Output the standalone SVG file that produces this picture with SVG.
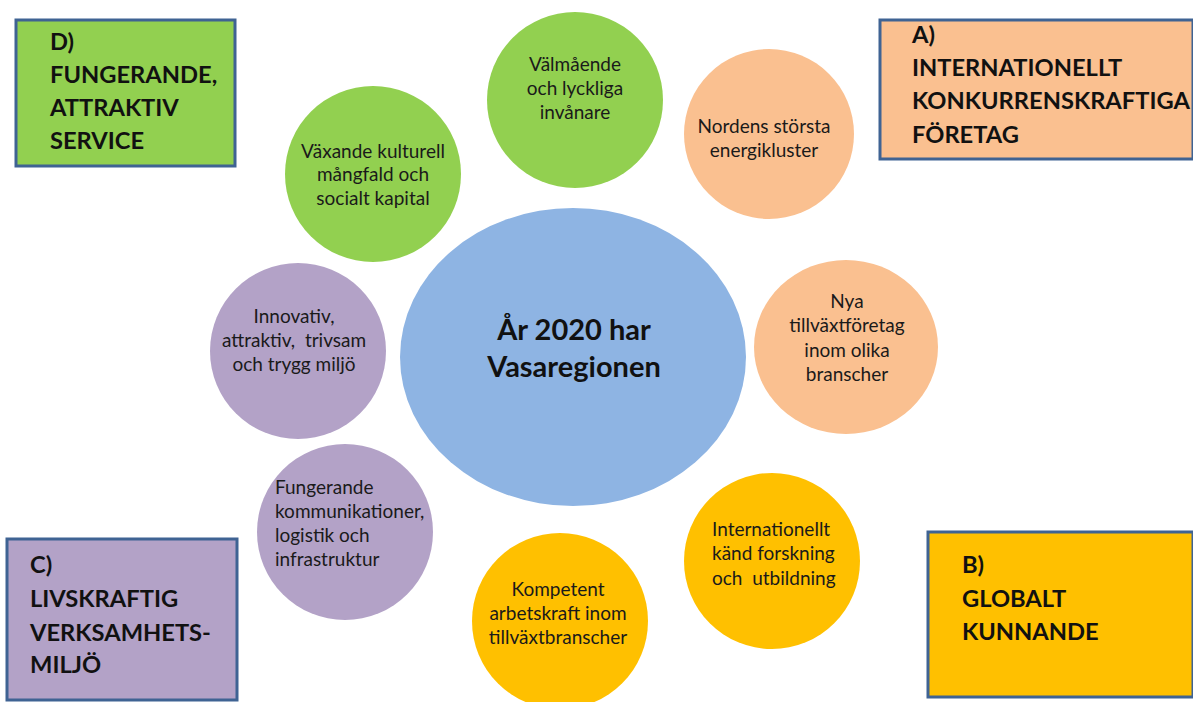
<svg xmlns="http://www.w3.org/2000/svg" width="1193" height="702" viewBox="0 0 1193 702">
<style>
.box{stroke:#3f6393;stroke-width:3}
.t{font-family:Lato,"Liberation Sans",sans-serif;font-size:19px;fill:#1a1a1a}
.c{text-anchor:middle}
.h{font-family:Lato,"Liberation Sans",sans-serif;font-weight:bold;font-size:23.7px;fill:#111}
.m{font-family:Lato,"Liberation Sans",sans-serif;font-weight:bold;font-size:29px;fill:#111;text-anchor:middle}
.green{fill:#92d050}
.peach{fill:#fac090}
.gold{fill:#ffc000}
.lilac{fill:#b3a2c7}
.blue{fill:#8eb4e3}
</style>
<rect width="1193" height="702" fill="#fff"/>
<g id="connectors"/>
<g id="boxD">
<rect class="box green" x="16" y="20" width="219" height="146"/>
<text class="h"><tspan x="50" y="50">D)</tspan><tspan x="50" y="83">FUNGERANDE,</tspan><tspan x="50" y="116">ATTRAKTIV</tspan><tspan x="50" y="149">SERVICE</tspan></text>
</g>
<g id="boxA">
<rect class="box peach" x="880" y="20" width="313" height="139"/>
<text class="h"><tspan x="912" y="43">A)</tspan><tspan x="912" y="76">INTERNATIONELLT</tspan><tspan x="912" y="109">KONKURRENSKRAFTIGA</tspan><tspan x="912" y="143">FÖRETAG</tspan></text>
</g>
<g id="boxC">
<rect class="box lilac" x="7" y="539" width="230" height="161"/>
<text class="h"><tspan x="30" y="573">C)</tspan><tspan x="30" y="607">LIVSKRAFTIG</tspan><tspan x="30" y="641">VERKSAMHETS-</tspan><tspan x="30" y="673">MILJÖ</tspan></text>
</g>
<g id="boxB">
<rect class="box gold" x="928" y="532" width="265" height="165"/>
<text class="h"><tspan x="962" y="573">B)</tspan><tspan x="962" y="607">GLOBALT</tspan><tspan x="962" y="640">KUNNANDE</tspan></text>
</g>
<g id="center">
<ellipse class="blue" cx="573" cy="357" rx="173" ry="149"/>
<text class="m"><tspan x="574" y="340">År 2020 har</tspan><tspan x="574" y="377">Vasaregionen</tspan></text>
</g>
<g id="valmaende">
<circle class="green" cx="575" cy="100" r="88"/>
<text class="t c"><tspan x="575" y="71">Välmående</tspan><tspan x="575" y="95">och lyckliga</tspan><tspan x="575" y="119">invånare</tspan></text>
</g>
<g id="nordens">
<circle class="peach" cx="769" cy="134" r="85"/>
<text class="t c"><tspan x="764" y="133">Nordens största</tspan><tspan x="764" y="157">energikluster</tspan></text>
</g>
<g id="vaxande">
<circle class="green" cx="373" cy="174" r="88"/>
<text class="t c"><tspan x="373" y="158">Växande kulturell</tspan><tspan x="373" y="181">mångfald och</tspan><tspan x="373" y="205">socialt kapital</tspan></text>
</g>
<g id="innovativ">
<circle class="lilac" cx="298" cy="351" r="88"/>
<text class="t c"><tspan x="294" y="323">Innovativ,</tspan><tspan x="294" y="347" xml:space="preserve">attraktiv,  trivsam</tspan><tspan x="294" y="371">och trygg miljö</tspan></text>
</g>
<g id="nya">
<ellipse class="peach" cx="846" cy="347" rx="92" ry="87"/>
<text class="t c"><tspan x="847" y="308">Nya</tspan><tspan x="847" y="332">tillväxtföretag</tspan><tspan x="847" y="357">inom olika</tspan><tspan x="847" y="381">branscher</tspan></text>
</g>
<g id="fungerande">
<circle class="lilac" cx="345" cy="532" r="88"/>
<text class="t"><tspan x="275" y="494">Fungerande</tspan><tspan x="275" y="518">kommunikationer,</tspan><tspan x="275" y="542">logistik och</tspan><tspan x="275" y="566">infrastruktur</tspan></text>
</g>
<g id="kompetent">
<circle class="gold" cx="560" cy="621" r="88"/>
<text class="t c"><tspan x="558" y="596">Kompetent</tspan><tspan x="558" y="620">arbetskraft inom</tspan><tspan x="558" y="644">tillväxtbranscher</tspan></text>
</g>
<g id="internationellt">
<circle class="gold" cx="772" cy="561" r="88"/>
<text class="t"><tspan x="712" y="536">Internationellt</tspan><tspan x="712" y="560">känd forskning</tspan><tspan x="712" y="585" xml:space="preserve">och  utbildning</tspan></text>
</g>
</svg>
